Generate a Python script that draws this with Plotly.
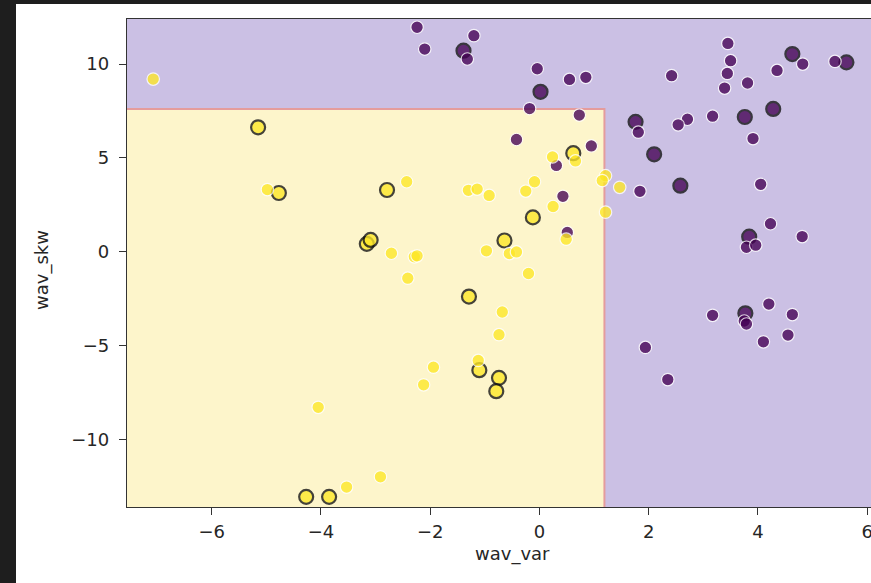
import plotly.graph_objects as go

# ---- data ----
train_purple_x = [-2.24, -2.10, -1.20, -1.32, -0.04, 0.55, 0.85, -0.18, 0.73, -0.42, 0.95, 0.31, 0.43, 0.51,
                  3.45, 3.50, 3.44, 3.39, 3.81, 2.42, 4.82, 4.35, 5.41, 3.17, 2.71, 2.54, 1.81, 3.91, 1.84,
                  4.05, 4.23, 4.81, 3.79, 3.96, 1.94, 2.35, 3.17, 3.75, 3.79, 4.20, 4.63, 4.55, 4.10]
train_purple_y = [11.96, 10.80, 11.51, 10.27, 9.75, 9.18, 9.29, 7.63, 7.28, 5.98, 5.64, 4.60, 2.95, 1.03,
                  11.10, 10.18, 9.50, 8.72, 8.99, 9.38, 10.00, 9.66, 10.14, 7.22, 7.06, 6.76, 6.37, 6.03, 3.22,
                  3.59, 1.49, 0.81, 0.24, 0.35, -5.10, -6.81, -3.39, -3.69, -3.85, -2.79, -3.35, -4.44, -4.80]

test_purple_x = [-1.39, 0.02, 4.63, 5.62, 4.28, 3.76, 1.76, 2.10, 2.58, 3.84, 3.77]
test_purple_y = [10.71, 8.52, 10.53, 10.09, 7.61, 7.18, 6.92, 5.19, 3.52, 0.80, -3.28]

train_yellow_x = [-7.07, -4.98, 0.24, 0.66, 1.21, 1.15, 1.47, -2.43, -1.30, -1.14, -0.92, -0.09, -0.25, 0.25,
                  1.21, 0.49, -0.97, -0.55, -0.42, -2.71, -2.29, -2.24, -0.20, -2.41, -0.68, -0.74, -1.94,
                  -2.12, -1.12, -4.05, -3.53, -2.91]
train_yellow_y = [9.20, 3.31, 5.05, 4.84, 4.05, 3.79, 3.43, 3.73, 3.27, 3.34, 3.00, 3.73, 3.23, 2.41,
                  2.11, 0.67, 0.05, -0.10, -0.01, -0.08, -0.27, -0.22, -1.16, -1.41, -3.21, -4.42, -6.15,
                  -7.09, -5.79, -8.29, -12.54, -11.99]

test_yellow_x = [-5.15, -4.77, -3.16, -3.09, 0.62, -2.79, -0.12, -0.64, -1.29, -1.10, -0.74, -0.79, -4.27, -3.85]
test_yellow_y = [6.63, 3.13, 0.42, 0.63, 5.25, 3.29, 1.83, 0.60, -2.39, -6.31, -6.72, -7.43, -13.06, -13.06]

# decision regions (tree splits) and view limits
x_min, x_max = -7.55, 6.07
y_min, y_max = -13.60, 12.40
split_var = 1.19
split_skw = 7.60
region_class = [[1, 0], [0, 0]]   # rows: y below / above split; cols: x left / right of split

x_ticks = [-6, -4, -2, 0, 2, 4, 6]
y_ticks = [-10, -5, 0, 5, 10]
x_label = "wav_var"
y_label = "wav_skw"

PURPLE = "#440154"
YELLOW = "#fde725"
FONT = "DejaVu Sans"
FS = 18

fig = go.Figure()

fig.add_trace(go.Heatmap(
    x=[x_min, split_var, x_max], y=[y_min, split_skw, y_max], z=region_class,
    colorscale=[[0, "#cbc0e4"], [1, "#fdf5cb"]], zmin=0, zmax=1, showscale=False,
    hoverinfo="skip"))

fig.add_trace(go.Scatter(
    x=[split_var, split_var, x_min], y=[y_min, split_skw, split_skw], mode="lines",
    line=dict(color="#e59c9c", width=2), hoverinfo="skip", showlegend=False))

def pts(x, y, color, size, lc, lw):
    return go.Scatter(x=x, y=y, mode="markers", showlegend=False,
                      marker=dict(color=color, size=size, opacity=0.78,
                                  line=dict(color=lc, width=lw)))

fig.add_trace(pts(test_purple_x, test_purple_y, PURPLE, 14, "#111111", 2.2))
fig.add_trace(pts(test_yellow_x, test_yellow_y, YELLOW, 14, "#111111", 2.2))
fig.add_trace(pts(train_purple_x, train_purple_y, PURPLE, 12.5, "white", 1.2))
fig.add_trace(pts(train_yellow_x, train_yellow_y, YELLOW, 12.5, "white", 1.2))

# page: dark frame 16px left / 4px top, figure fills the rest of the 871x583 window
OX, OY = 16, 4
W, H = 871 - OX, 583 - OY
L, T, B, R = 127 - OX, 19 - OY, 583 - 507, 0
pw, ph = W - L - R, H - T - B

def px_x(p):  # window pixel -> paper x
    return (p - OX - L) / pw

def px_y(p):  # window pixel -> paper y
    return (H - B - (p - OY)) / ph

fig.update_layout(
    width=W, height=H, margin=dict(l=L, r=R, t=T, b=B, autoexpand=False),
    paper_bgcolor="white", plot_bgcolor="white",
    font=dict(family=FONT, size=FS, color="#262626"),
    annotations=[
        dict(text=x_label, xref="paper", yref="paper", x=px_x(512), y=px_y(554),
             xanchor="center", yanchor="middle", showarrow=False, font=dict(size=FS)),
        dict(text=y_label, xref="paper", yref="paper", x=px_x(42), y=px_y(270),
             xanchor="center", yanchor="middle", showarrow=False, textangle=-90, font=dict(size=FS)),
    ],
    xaxis=dict(range=[x_min, x_max], tickvals=x_ticks, ticks="outside", ticklen=7, tickwidth=1.2,
               tickcolor="#333333", showline=True, linecolor="#333333", linewidth=1.3, mirror=True,
               showgrid=False, zeroline=False, tickfont=dict(size=FS), ticklabeloverflow="allow",
               ticklabelstandoff=1),
    yaxis=dict(range=[y_min, y_max], tickvals=y_ticks, ticks="outside", ticklen=7, tickwidth=1.2,
               tickcolor="#333333", showline=True, linecolor="#333333", linewidth=1.3, mirror=False,
               showgrid=False, zeroline=False, tickfont=dict(size=FS), ticklabeloverflow="allow",
               ticklabelstandoff=6),
)

post = (
    "document.documentElement.style.overflow='hidden';"
    "document.body.style.margin='0';"
    "document.body.style.overflow='hidden';"
    "document.body.style.background='#1e1e1e';"
    "document.body.style.padding='4px 0 0 16px';"
    "document.body.style.boxSizing='border-box';"
    "var g=document.getElementById('{plot_id}');"
    "g.style.boxShadow='inset 0 1px 0 #9a9a9a';"
)

fig.write_html("out.html", config={"displayModeBar": False}, post_script=post)
